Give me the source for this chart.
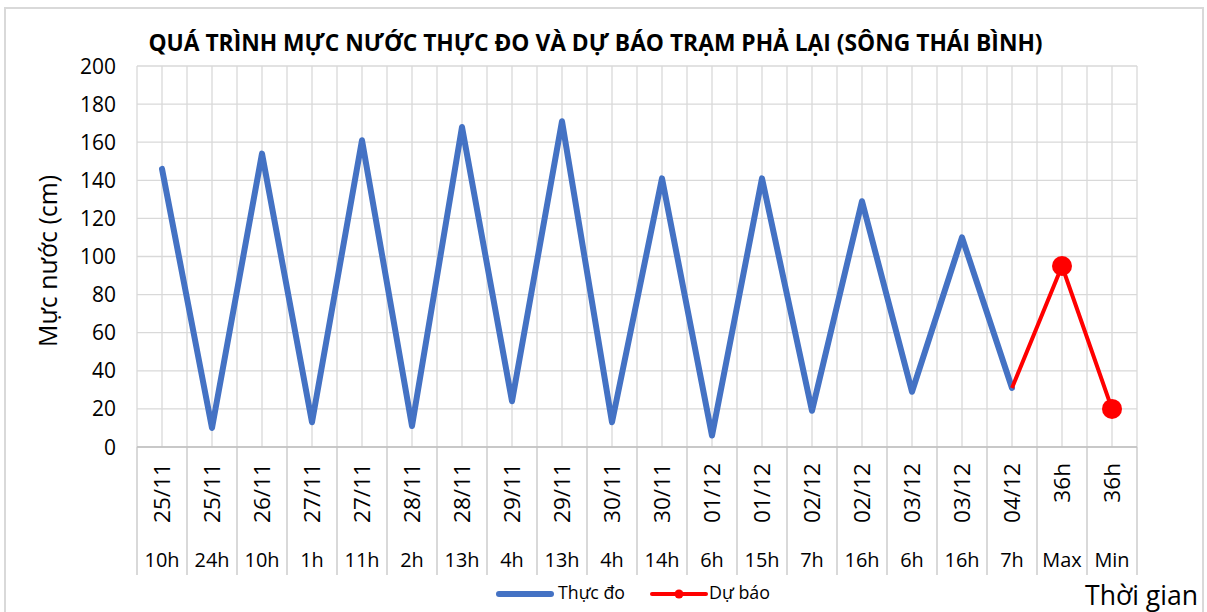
<!DOCTYPE html>
<html>
<head>
<meta charset="utf-8">
<script src="https://cdn.jsdelivr.net/npm/d3@7"></script>
<style>
  body { margin: 0; background: #fff; }
  text { font-family: "Open Sans", "Noto Sans", sans-serif; fill: #000; }
</style>
</head>
<body>
<div id="chart"></div>
<script>
// dates (rotated row) and hours (bottom row) of each category
const dates = ["25/11", "25/11", "26/11", "27/11", "27/11", "28/11", "28/11", "29/11", "29/11", "30/11",
  "30/11", "01/12", "01/12", "02/12", "02/12", "03/12", "03/12", "04/12", "36h", "36h"];
const hours = ["10h", "24h", "10h", "1h", "11h", "2h", "13h", "4h", "13h", "4h",
  "14h", "6h", "15h", "7h", "16h", "6h", "16h", "7h", "Max", "Min"];

// water level (cm)
const observed = [146, 10, 154, 13, 161, 11, 168, 24, 171, 13,
  141, 6, 141, 19, 129, 29, 110, 31, null, null];
const forecast = [null, null, null, null, null, null, null, null, null, null,
  null, null, null, null, null, null, null, 31, 95, 20];

const yTicks = [0, 20, 40, 60, 80, 100, 120, 140, 160, 180, 200];

const title = "QUÁ TRÌNH MỰC NƯỚC THỰC ĐO VÀ DỰ BÁO TRẠM PHẢ LẠI (SÔNG THÁI BÌNH)";

const width = 1207;
const height = 612;
const plot = { left: 137, right: 1137, top: 66, bottom: 447 };
const gridColor = "#d9d9d9";

const svg = d3
  .select("#chart")
  .append("svg")
  .attr("width", width)
  .attr("height", height);

// scale a text so it takes a given width
function fitFont(sel, target) {
  sel.style("font-size", "20px");
  const w = sel.node().getComputedTextLength();
  const size = 20 * target / w;
  sel.style("font-size", size + "px");
  return size;
}

// outer chart border
svg
  .append("rect")
  .attr("x", 5)
  .attr("y", 8)
  .attr("width", 1198)
  .attr("height", 640)
  .attr("fill", "none")
  .attr("stroke", gridColor)
  .attr("stroke-width", 2);

const x = d3
  .scaleBand()
  .domain(d3.range(dates.length))
  .range([plot.left, plot.right]);

const y = d3
  .scaleLinear()
  .domain([0, 200])
  .range([plot.bottom, plot.top]);

const cx = i => x(i) + x.bandwidth() / 2;

// horizontal gridlines
svg
  .append("g")
  .selectAll("line")
  .data(yTicks)
  .join("line")
  .attr("x1", plot.left)
  .attr("x2", plot.right)
  .attr("y1", d => y(d))
  .attr("y2", d => y(d))
  .attr("stroke", gridColor)
  .attr("stroke-width", 1.3);

// vertical gridlines, at band edges and band centres
const edges = d3.range(dates.length + 1).map(i => plot.left + i * x.bandwidth());
const centres = d3.range(dates.length).map(cx);

svg
  .append("g")
  .selectAll("line")
  .data(edges.concat(centres))
  .join("line")
  .attr("x1", d => d)
  .attr("x2", d => d)
  .attr("y1", plot.top)
  .attr("y2", plot.bottom)
  .attr("stroke", gridColor)
  .attr("stroke-width", 1.3);

// separators in the category label area
svg
  .append("g")
  .selectAll("line")
  .data(edges)
  .join("line")
  .attr("x1", d => d)
  .attr("x2", d => d)
  .attr("y1", plot.bottom)
  .attr("y2", 575)
  .attr("stroke", gridColor)
  .attr("stroke-width", 2);

svg
  .append("line")
  .attr("x1", plot.left)
  .attr("x2", plot.right)
  .attr("y1", plot.bottom)
  .attr("y2", plot.bottom)
  .attr("stroke", "#bfbfbf")
  .attr("stroke-width", 1.5);

// y tick labels
const yLabels = svg
  .append("g")
  .selectAll("text")
  .data(yTicks)
  .join("text")
  .attr("x", 116)
  .attr("y", d => y(d))
  .attr("dy", "0.36em")
  .attr("text-anchor", "end")
  .text(d => d);
const tickSize = fitFont(yLabels.filter(d => d === 200), 36);
yLabels.style("font-size", tickSize + "px");

// category labels: rotated dates
const dateLabels = svg
  .append("g")
  .selectAll("text")
  .data(dates)
  .join("text")
  .attr("transform", (d, i) => `translate(${cx(i)},463) rotate(-90)`)
  .attr("dy", "0.36em")
  .attr("text-anchor", "end")
  .text(d => d);
const dateSize = fitFont(dateLabels.filter((d, i) => i === 0), 60);
dateLabels.style("font-size", dateSize + "px");

// category labels: hours
const hourLabels = svg
  .append("g")
  .selectAll("text")
  .data(hours)
  .join("text")
  .attr("x", (d, i) => cx(i))
  .attr("y", 567)
  .attr("text-anchor", "middle")
  .text(d => d);
const hourSize = fitFont(hourLabels.filter((d, i) => i === 0), 35);
hourLabels.style("font-size", hourSize + "px");

// series
const line = d3
  .line()
  .defined(d => d != null)
  .x((d, i) => cx(i))
  .y(d => y(d));

svg
  .append("path")
  .datum(observed)
  .attr("d", line)
  .attr("fill", "none")
  .attr("stroke", "#4472C4")
  .attr("stroke-width", 6)
  .attr("stroke-linejoin", "round")
  .attr("stroke-linecap", "round");

svg
  .append("path")
  .datum(forecast)
  .attr("d", line)
  .attr("fill", "none")
  .attr("stroke", "#FF0000")
  .attr("stroke-width", 4)
  .attr("stroke-linejoin", "round");

// forecast markers, only where there is no measurement
svg
  .append("g")
  .selectAll("circle")
  .data(forecast.map((v, i) => ({ v, i })).filter(d => d.v != null && observed[d.i] == null))
  .join("circle")
  .attr("cx", d => cx(d.i))
  .attr("cy", d => y(d.v))
  .attr("r", 10)
  .attr("fill", "#FF0000");

// title
const titleText = svg
  .append("text")
  .attr("x", 595.5)
  .attr("y", 51)
  .attr("text-anchor", "middle")
  .style("font-weight", "bold")
  .text(title);
fitFont(titleText, 895);

// axis titles
const yTitle = svg
  .append("text")
  .attr("transform", "translate(57,261) rotate(-90)")
  .attr("text-anchor", "middle")
  .text("Mực nước (cm)");
fitFont(yTitle, 172);

const xTitle = svg
  .append("text")
  .attr("x", 1085)
  .attr("y", 605)
  .text("Thời gian");
fitFont(xTitle, 113);

// legend
const legend = svg.append("g");
legend
  .append("line")
  .attr("x1", 499)
  .attr("x2", 551)
  .attr("y1", 594)
  .attr("y2", 594)
  .attr("stroke", "#4472C4")
  .attr("stroke-width", 6)
  .attr("stroke-linecap", "round");
const l1 = legend
  .append("text")
  .attr("x", 558)
  .attr("y", 599)
  .text("Thực đo");
fitFont(l1, 67);

legend
  .append("line")
  .attr("x1", 652)
  .attr("x2", 706)
  .attr("y1", 594)
  .attr("y2", 594)
  .attr("stroke", "#FF0000")
  .attr("stroke-width", 4)
  .attr("stroke-linecap", "round");
legend
  .append("circle")
  .attr("cx", 679)
  .attr("cy", 594)
  .attr("r", 4.5)
  .attr("fill", "#FF0000");
const l2 = legend
  .append("text")
  .attr("x", 709)
  .attr("y", 599)
  .text("Dự báo");
fitFont(l2, 61);
</script>
</body>
</html>
